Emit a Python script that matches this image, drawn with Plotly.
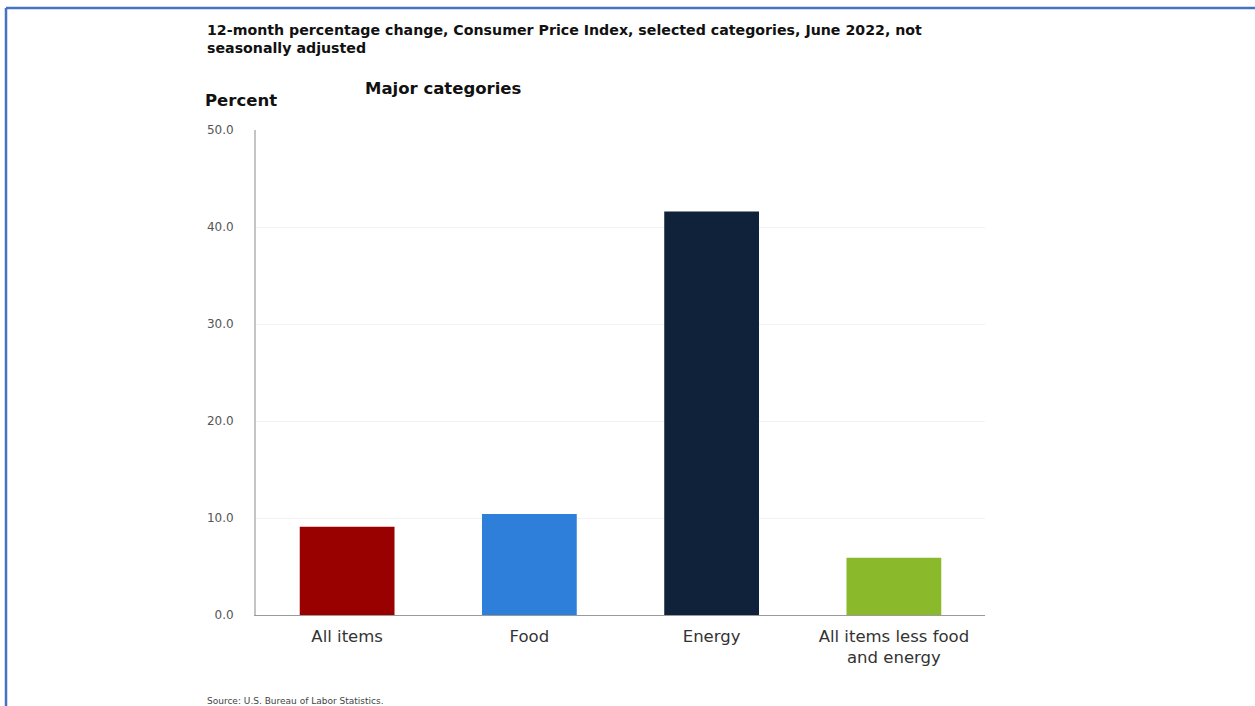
import plotly.graph_objects as go

categories = ["All items", "Food", "Energy", "All items less food<br>and energy"]
values = [9.1, 10.4, 41.6, 5.9]
colors = ["#990000", "#2E7FD9", "#0F2239", "#8AB92B"]
y_ticks = [0, 10, 20, 30, 40, 50]
y_tick_labels = ["0.0", "10.0", "20.0", "30.0", "40.0", "50.0"]

W, H = 1255, 706
L, R, T, B = 256, 270, 130, 91
pw, ph = W - L - R, H - T - B

def px(x):
    return (x - L) / pw

def py(y):
    return (H - B - y) / ph

fig = go.Figure(go.Bar(
    x=categories, y=values, marker_color=colors, width=0.52,
    marker_line_width=0, hoverinfo="x+y",
))

fig.update_layout(
    width=W, height=H,
    margin=dict(l=L, r=R, t=T, b=B),
    paper_bgcolor="white", plot_bgcolor="white",
    showlegend=False,
    font=dict(family="DejaVu Sans", color="#333333"),
    xaxis=dict(range=[-0.5, 3.5], showline=True, linecolor="#9a9a9a", linewidth=1,
               ticks="", tickfont=dict(size=16.5, color="#333333"), showgrid=False,
               ticklabelstandoff=6, fixedrange=True),
    yaxis=dict(range=[0, 50], tickvals=y_ticks, ticktext=y_tick_labels,
               showline=True, linecolor="#c4c4c4", linewidth=2,
               showgrid=True, gridcolor="#f2f2f2", gridwidth=1,
               tickfont=dict(size=12, color="#555555"), ticks="", ticklen=0,
               ticklabelstandoff=18, zeroline=False, fixedrange=True),
    shapes=[
        dict(type="line", xref="paper", yref="paper", x0=px(6), x1=px(1256), y0=py(8), y1=py(8),
             line=dict(color="#4472C4", width=2.5)),
        dict(type="line", xref="paper", yref="paper", x0=px(6), x1=px(6), y0=py(8), y1=py(707),
             line=dict(color="#4472C4", width=2.5)),
    ],
    annotations=[
        dict(text="<b>12-month percentage change, Consumer Price Index, selected categories, June 2022, not<br>seasonally adjusted</b>",
             xref="paper", yref="paper", x=px(205), y=py(20), xanchor="left", yanchor="top",
             align="left", showarrow=False,
             font=dict(family="DejaVu Sans", size=14.2, color="#111111")),
        dict(text="<b>Percent</b>", xref="paper", yref="paper", x=px(203), y=py(100),
             xanchor="left", yanchor="middle", showarrow=False,
             font=dict(family="DejaVu Sans", size=16.5, color="#111111")),
        dict(text="<b>Major categories</b>", xref="paper", yref="paper", x=px(363), y=py(88),
             xanchor="left", yanchor="middle", showarrow=False,
             font=dict(family="DejaVu Sans", size=16.5, color="#111111")),
        dict(text="Source: U.S. Bureau of Labor Statistics.", xref="paper", yref="paper",
             x=px(205), y=py(701), xanchor="left", yanchor="middle", showarrow=False,
             font=dict(family="DejaVu Sans", size=9, color="#444444")),
    ],
)

fig.write_html("out.html", config={"displayModeBar": False},
               post_script="document.body.style.margin='0px';")
